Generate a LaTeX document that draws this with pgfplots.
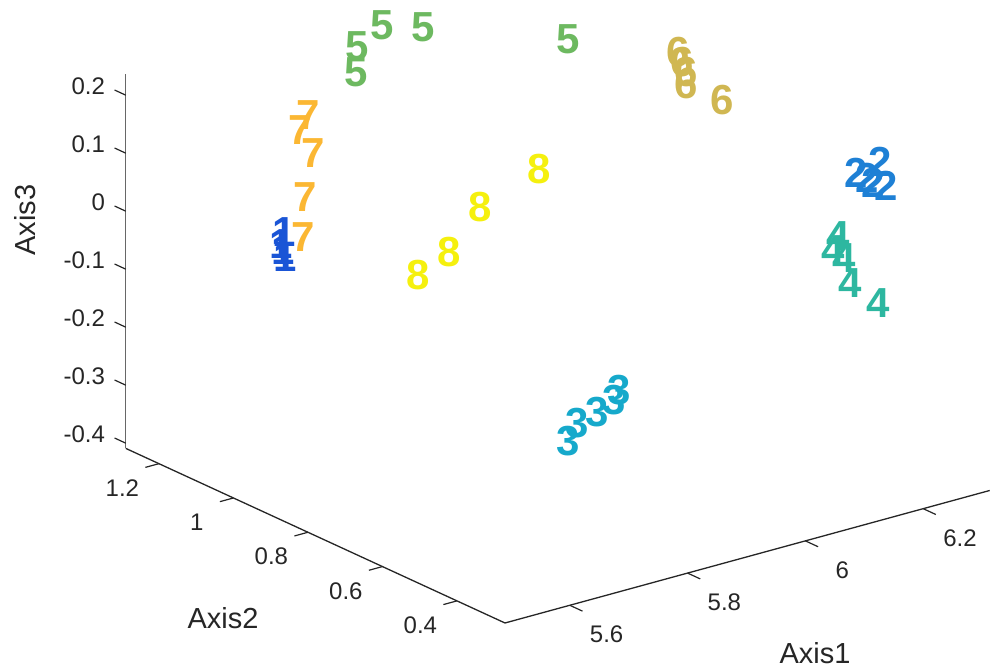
\documentclass[border=0pt]{standalone}
\usepackage{fontspec}
\setmainfont{Liberation Sans}
\usepackage{pgfplots}
\pgfplotsset{compat=1.18}
\definecolor{axc}{HTML}{262626}
\definecolor{c1}{HTML}{1A55D6}
\definecolor{c2}{HTML}{1E80D5}
\definecolor{c3}{HTML}{16A9CB}
\definecolor{c4}{HTML}{2DB7A0}
\definecolor{c5}{HTML}{6DB960}
\definecolor{c6}{HTML}{D0B752}
\definecolor{c7}{HTML}{FBB733}
\definecolor{c8}{HTML}{F5F00E}
\begin{document}
\begin{tikzpicture}
\begin{axis}[
  x={(294.5pt,80.5pt)}, y={(-186.25pt,85.75pt)}, z={(0pt,290pt)},
  xmin=5.49, xmax=6.313, ymin=0.271, ymax=1.289, zmin=-0.409, zmax=0.236,
  clip=false,
  axis line style={draw=none},
  xtick={5.6,5.8,6,6.2}, ytick={0.4,0.6,0.8,1,1.2},
  ztick={-0.4,-0.3,-0.2,-0.1,0,0.1,0.2},
  tick pos=left,
  tick align=outside, major tick length=6.5pt,
  tick style={draw=none},
  /pgf/number format/assume math mode=true,
  ticklabel style={font=\fontsize{12}{12}\selectfont, text=axc},
  xticklabel style={anchor=center, xshift=12.5pt, yshift=-12pt},
  yticklabel style={anchor=center, xshift=-12pt, yshift=-10.5pt},
  zticklabel style={anchor=east, xshift=-1pt, yshift=2pt},
  xlabel={Axis1}, ylabel={Axis2}, zlabel={Axis3},
  label style={font=\fontsize{14.5}{14.5}\selectfont, text=axc},
  xlabel style={at={(axis cs:5.49,0.271,-0.409)}, anchor=center, xshift=155pt, yshift=-15pt},
  ylabel style={at={(axis cs:5.49,0.271,-0.409)}, anchor=center, xshift=-141pt, yshift=2.5pt},
  zlabel style={at={(axis cs:5.49,0.271,-0.409)}, anchor=center, xshift=201.5pt, yshift=240pt},
  every axis plot/.append style={only marks, mark=text, text mark as node=true,
    text mark style={font=\bfseries\fontsize{21}{21}\selectfont, inner sep=0pt}},
]
\coordinate (corner) at (axis cs:5.49,0.271,-0.409);
% axis lines
\draw[axc, line width=0.65pt] (axis cs:5.49,0.271,-0.409) -- (axis cs:6.313,0.271,-0.409);
\draw[axc, line width=0.65pt] (axis cs:5.49,0.271,-0.409) -- (axis cs:5.49,1.289,-0.409);
\draw[axc!70, line width=0.65pt] (axis cs:5.49,1.289,-0.409) -- (axis cs:5.49,1.289,0.236);
% tick marks (pointing outward, MATLAB style)
\draw[axc, line width=0.6pt]
  (axis cs:5.6,0.271,-0.409) -- (axis cs:5.6,0.237,-0.409)
  (axis cs:5.8,0.271,-0.409) -- (axis cs:5.8,0.237,-0.409)
  (axis cs:6.0,0.271,-0.409) -- (axis cs:6.0,0.237,-0.409)
  (axis cs:6.2,0.271,-0.409) -- (axis cs:6.2,0.237,-0.409)
  (axis cs:5.49,0.4,-0.409) -- (axis cs:5.467,0.4,-0.409)
  (axis cs:5.49,0.6,-0.409) -- (axis cs:5.467,0.6,-0.409)
  (axis cs:5.49,0.8,-0.409) -- (axis cs:5.467,0.8,-0.409)
  (axis cs:5.49,1.0,-0.409) -- (axis cs:5.467,1.0,-0.409)
  (axis cs:5.49,1.2,-0.409) -- (axis cs:5.467,1.2,-0.409)
  (axis cs:5.49,1.289,-0.4) -- (axis cs:5.49,1.319,-0.4)
  (axis cs:5.49,1.289,-0.3) -- (axis cs:5.49,1.319,-0.3)
  (axis cs:5.49,1.289,-0.2) -- (axis cs:5.49,1.319,-0.2)
  (axis cs:5.49,1.289,-0.1) -- (axis cs:5.49,1.319,-0.1)
  (axis cs:5.49,1.289,0) -- (axis cs:5.49,1.319,0)
  (axis cs:5.49,1.289,0.1) -- (axis cs:5.49,1.319,0.1)
  (axis cs:5.49,1.289,0.2) -- (axis cs:5.49,1.319,0.2);
\addplot3[c1, text mark={1}] coordinates {(5.576,1.0,0.026) (5.571,1.0,0.007) (5.574,1.0,-0.005) (5.578,1.0,-0.018)};
\addplot3[c7, text mark={7}] coordinates {(5.680,1.1,0.169) (5.666,1.1,0.147) (5.688,1.1,0.101) (5.675,1.1,0.029) (5.671,1.1,-0.039)};
\addplot3[c5, text mark={5}] coordinates {(5.858,1.25,0.194) (5.856,1.25,0.150) (5.900,1.25,0.219) (5.970,1.25,0.196) (6.216,1.25,0.107)};
\addplot3[c6, text mark={6}] coordinates {(6.182,0.9,0.198) (6.188,0.9,0.178) (6.195,0.9,0.159) (6.195,0.9,0.139) (6.256,0.9,0.094)};
\addplot3[c2, text mark={2}] coordinates {(6.199,0.45,0.117) (6.218,0.45,0.103) (6.240,0.45,0.125) (6.250,0.45,0.081) (6.228,0.45,0.092)};
\addplot3[c4, text mark={4}] coordinates {(6.105,0.35,0.064) (6.097,0.35,0.042) (6.116,0.35,0.023) (6.126,0.35,-0.023) (6.173,0.35,-0.070)};
\addplot3[c3, text mark={3}] coordinates {(5.679,0.4,-0.186) (5.694,0.4,-0.159) (5.728,0.4,-0.149) (5.757,0.4,-0.137) (5.765,0.4,-0.122)};
\addplot3[c8, text mark={8}] coordinates {(5.677,0.8,-0.017) (5.730,0.8,0.008) (5.782,0.8,0.071) (5.882,0.8,0.108)};
\end{axis}
\pgfresetboundingbox
\path[use as bounding box] ([shift={(-252.5pt,-22pt)}]corner) rectangle ([shift={(242.5pt,311.5pt)}]corner);
\end{tikzpicture}
\end{document}
